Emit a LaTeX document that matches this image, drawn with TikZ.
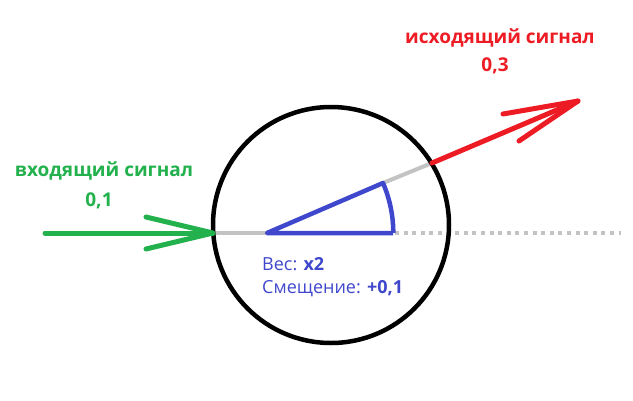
\documentclass[tikz,border=0pt]{standalone}
\usepackage{fontspec}
\setmainfont{Open Sans}
\definecolor{pgreen}{RGB}{34,177,76}
\definecolor{pred}{RGB}{237,28,36}
\definecolor{pblue}{RGB}{63,72,204}
\definecolor{pgray}{RGB}{195,195,195}
\begin{document}
\begin{tikzpicture}[x=1pt,y=-1pt,
  greenline/.style={draw=pgreen,line width=5pt,line cap=round,line join=round},
  redline/.style={draw=pred,line width=5pt,line cap=round,line join=round},
  blueline/.style={draw=pblue,line width=4.5pt,line join=round},
  grayline/.style={draw=pgray,line width=4pt},
  graydots/.style={draw=pgray,line width=4pt,dash pattern=on 4pt off 4.6pt},
  neuron/.style={circle,draw=black,line width=4.5pt,minimum size=236pt,inner sep=0pt},
  greentext/.style={text=pgreen,font=\bfseries\fontsize{19}{21}\selectfont,inner sep=0pt},
  redtext/.style={text=pred,font=\bfseries\fontsize{19}{21}\selectfont,inner sep=0pt},
  bluetext/.style={text=pblue,font=\fontsize{18}{20}\selectfont,inner sep=0pt,anchor=west}]
\useasboundingbox (0,0) rectangle (633,400);
% points
\coordinate (gin) at (45,233);
\coordinate (cl) at (213,233);
\coordinate (gb1) at (146,217);
\coordinate (gb2) at (146,249);
\coordinate (o) at (267,233);
\coordinate (a) at (393,233);
\coordinate (b) at (383,183);
\coordinate (ce) at (432,163);
\coordinate (rt) at (578,101);
\coordinate (rb1) at (503,114);
\coordinate (rb2) at (519,141);
\coordinate (d0) at (395,233);
\coordinate (d1) at (621,233);
% gray lines
\draw[grayline] (cl) -- (o);
\draw[grayline] (b) -- (ce);
\draw[graydots] (d0) -- (d1);
% blue angle
\draw[blueline] (a) -- (o) -- (b) arc[start angle=-23.3,end angle=0,radius=126.3];
% neuron circle
\node[neuron] (n) at (331,225) {};
% green arrow
\draw[greenline] (gin) -- (cl);
\draw[greenline] (gb1) -- (cl) -- (gb2);
% red arrow
\draw[redline] (ce) -- (rt);
\draw[redline] (rb1) -- (rt) -- (rb2);
% texts
\node[greentext] (t1) at (104,171) {входящий сигнал};
\node[greentext] (t2) at (99,201) {0,1};
\node[redtext] (t3) at (500,38) {исходящий сигнал};
\node[redtext] (t4) at (495,66) {0,3};
\node[bluetext] (t5) at (262,264) {Вес: \textbf{x2}};
\node[bluetext] (t6) at (262,289) {Смещение: \textbf{+0,1}};
\end{tikzpicture}
\end{document}
